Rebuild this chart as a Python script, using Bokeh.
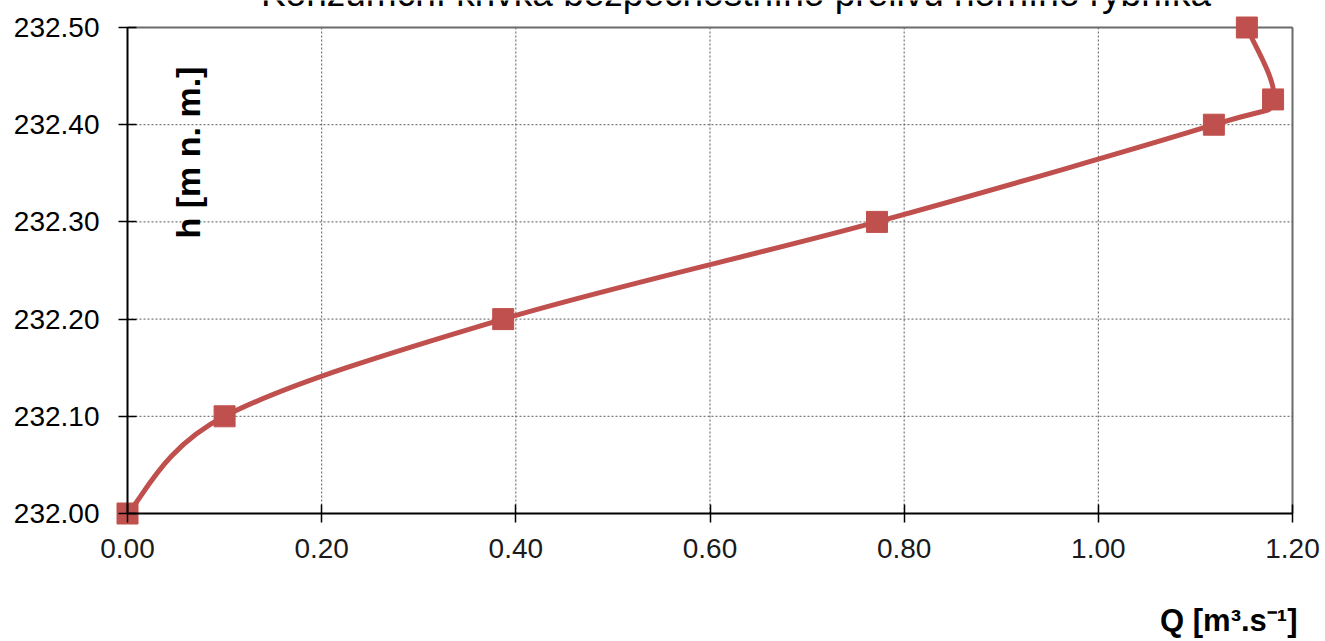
import numpy as np
from bokeh.plotting import figure
from bokeh.models import Range1d, FixedTicker, NumeralTickFormatter, Label
from bokeh.embed import file_html
from bokeh.resources import INLINE

# ---- data ----
Q = [0.000, 0.100, 0.387, 0.772, 1.119, 1.180, 1.153]
H = [232.000, 232.100, 232.200, 232.300, 232.400, 232.426, 232.500]
x_ticks = [0.0, 0.2, 0.4, 0.6, 0.8, 1.0, 1.2]
y_ticks = [232.0, 232.1, 232.2, 232.3, 232.4, 232.5]
title_text = "Konzumční křivka bezpečnostního přelivu horního rybníka"
x_label = "Q [m³.s⁻¹]"
y_label = "h [m n. m.]"

RED = "#C0504D"
FONT = "Liberation Sans"
X0, X1 = x_ticks[0], x_ticks[-1]
Y0, Y1 = y_ticks[0], y_ticks[-1]
KX = 1165 / (X1 - X0)   # px per unit (x)
KY = 486 / (Y1 - Y0)    # px per unit (y)

# the frame covers the whole canvas; axes are pinned at Q=0 and h=232.00
p = figure(width=1325, height=641, output_backend="svg", toolbar_location=None,
           x_range=Range1d(X0 - 127 / KX, X1 + 33 / KX),
           y_range=Range1d(Y0 - 128 / KY, Y1 + 27 / KY))
p.min_border_left = 0
p.min_border_right = 0
p.min_border_top = 0
p.min_border_bottom = 0
p.background_fill_color = "white"
p.border_fill_color = "white"
p.outline_line_color = None

for ax in (p.xaxis, p.yaxis):
    ax.axis_line_color = "black"
    ax.axis_line_width = 2
    ax.major_tick_line_color = "black"
    ax.major_tick_line_width = 1.5
    ax.major_tick_in = 9
    ax.major_tick_out = 9
    ax.minor_tick_line_color = None
    ax.major_label_text_font = FONT
    ax.major_label_text_font_size = "28px"
    ax.major_label_text_color = "black"
    ax.formatter = NumeralTickFormatter(format="0.00")
p.xaxis.ticker = FixedTicker(ticks=x_ticks)
p.yaxis.ticker = FixedTicker(ticks=y_ticks)
p.xaxis.bounds = (X0, X1)
p.yaxis.bounds = (Y0, Y1)
p.xaxis.fixed_location = Y0
p.yaxis.fixed_location = X0
p.xaxis.major_label_standoff = 16
p.yaxis.major_label_standoff = 19
p.xaxis.major_label_text_color = "#1a1a1a"

p.xgrid.visible = False
p.ygrid.visible = False
GRID = "#5a5a5a"
# grid lines only inside the plot area
p.segment(x0=x_ticks, y0=[Y0] * len(x_ticks), x1=x_ticks, y1=[Y1] * len(x_ticks),
          line_color=GRID, line_dash="2 2", line_width=1)
p.segment(x0=[X0] * len(y_ticks), y0=y_ticks, x1=[X1] * len(y_ticks), y1=y_ticks,
          line_color=GRID, line_dash="2 2", line_width=1)
# plot area border (top and right)
p.segment(x0=[X0, X1], y0=[Y1, Y0], x1=[X1, X1], y1=[Y1, Y1],
          line_color="#6b6b6b", line_width=2)

# smooth curve (Catmull-Rom -> cubic Bezier) through the data points
pts = np.column_stack([Q, H]).astype(float)
n = len(pts)
bx0, by0, bx1, by1, cx0, cy0, cx1, cy1 = ([] for _ in range(8))
for i in range(n - 1):
    P0 = pts[i - 1] if i > 0 else pts[i]
    P1 = pts[i]
    P2 = pts[i + 1]
    P3 = pts[i + 2] if i + 2 < n else pts[i + 1]
    c1 = P1 + (P2 - P0) / 6.0
    c2 = P2 - (P3 - P1) / 6.0
    bx0.append(P1[0]); by0.append(P1[1])
    bx1.append(P2[0]); by1.append(P2[1])
    cx0.append(c1[0]); cy0.append(c1[1])
    cx1.append(c2[0]); cy1.append(c2[1])
p.bezier(x0=bx0, y0=by0, x1=bx1, y1=by1, cx0=cx0, cy0=cy0, cx1=cx1, cy1=cy1,
         line_color=RED, line_width=5)

p.scatter(Q, H, marker="square", size=21, fill_color=RED, line_color=RED)

# title (cut off at the top edge, as in the original)
p.add_layout(Label(x=X0 + 608.5 / KX, y=Y1 + 33.8 / KY, text=title_text,
                   text_font=FONT, text_font_size="37px", text_align="center",
                   text_baseline="middle", text_color="black"))
# y axis title inside the plot area
p.add_layout(Label(x=X0 + 60 / KX, y=Y1 - 125 / KY, text=y_label, text_font=FONT,
                   text_font_size="34px", text_font_style="bold",
                   angle=np.pi / 2, text_align="center", text_baseline="middle",
                   text_color="black"))
# x axis title, bottom right
p.add_layout(Label(x=X0 + 1170 / KX, y=Y0 - 107 / KY, text=x_label, text_font=FONT,
                   text_font_size="31px", text_font_style="bold",
                   text_align="right", text_baseline="middle",
                   text_color="black"))

open("out.html", "w").write(file_html(p, INLINE))
